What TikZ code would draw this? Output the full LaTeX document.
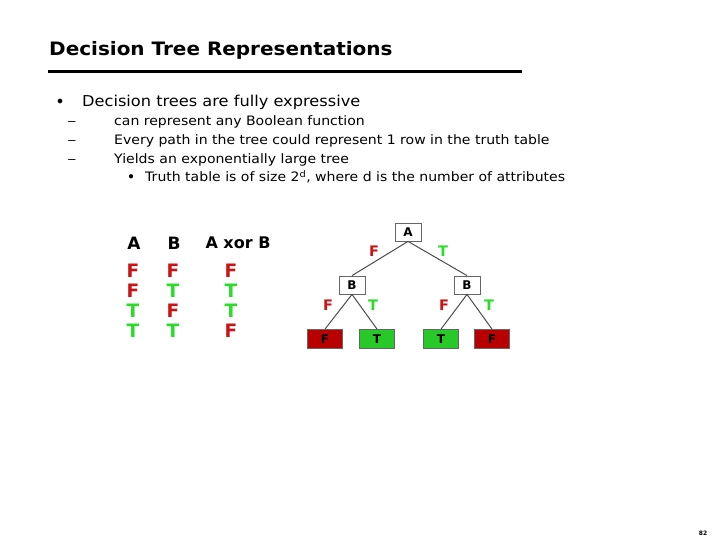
\documentclass[tikz,border=0pt]{standalone}
\usepackage{fontspec}
\setmainfont{DejaVu Sans}
\newfontfamily\slidefont[FakeStretch=1.08]{DejaVu Sans}
\usetikzlibrary{arrows,shapes}
\definecolor{fred}{RGB}{200,20,20}
\definecolor{tgreen}{RGB}{40,220,40}
\definecolor{leafred}{RGB}{185,0,0}
\definecolor{leafgreen}{RGB}{40,200,40}
\tikzstyle{line}=[anchor=base west,inner sep=0pt]
\tikzstyle{lvone}=[line,font=\slidefont\fontsize{15}{15}\selectfont]
\tikzstyle{lvtwo}=[line,font=\slidefont\fontsize{13}{13}\selectfont]
\tikzstyle{thead}=[font=\fontsize{17}{17}\bfseries,inner sep=0pt]
\tikzstyle{tval}=[font=\fontsize{18.5}{18.5}\bfseries,inner sep=0pt]
\tikzstyle{inode}=[rectangle,draw=black!60,fill=white,thick,minimum width=26pt,minimum height=18pt,inner sep=0pt,font=\fontsize{12}{12}\bfseries]
\tikzstyle{leaf}=[rectangle,draw=black!60,thick,minimum width=35pt,minimum height=19pt,inner sep=0pt,font=\fontsize{12}{12}\bfseries]
\tikzstyle{elabel}=[font=\fontsize{14.5}{14.5}\bfseries,inner sep=0pt]
\tikzstyle{tedge}=[draw=black!70,line width=1pt]
\begin{document}
\begin{tikzpicture}[x=1pt,y=-1pt]
\useasboundingbox (0,0) rectangle (720,540);
\node[line,font=\slidefont\fontsize{18.5}{18.5}\bfseries] (title) at (49,56) {Decision Tree Representations};
\draw[line width=3pt] (48,72) -- (522,72);
% bullet list
\node[font=\fontsize{13}{13}\selectfont] (b1) at (60,102) {$\bullet$};
\node[lvone] (l1) at (82,107) {Decision trees are fully expressive};
\node[lvtwo,xscale=1.3] (d1) at (67,126) {\textendash};
\node[lvtwo,xscale=1.3] (d2) at (67,145) {\textendash};
\node[lvtwo,xscale=1.3] (d3) at (67,164) {\textendash};
\node[lvtwo] (l2) at (114,126) {can represent any Boolean function};
\node[lvtwo] (l3) at (114,145) {Every path in the tree could represent 1 row in the truth table};
\node[lvtwo] (l4) at (114,164) {Yields an exponentially large tree};
\node[font=\fontsize{11}{11}\selectfont] (b2) at (131,177) {$\bullet$};
\node[lvtwo] (l5) at (145,182) {Truth table is of size 2\textsuperscript{d}, where d is the number of attributes};
% truth table
\node[thead] (hA) at (134,243) {A};
\node[thead] (hB) at (174,243) {B};
\node[thead,font=\fontsize{16}{16}\bfseries] (hX) at (238,243) {A xor B};
\node[tval,fred] (a1) at (133,271) {F};
\node[tval,fred] (a2) at (133,291) {F};
\node[tval,tgreen] (a3) at (133,311) {T};
\node[tval,tgreen] (a4) at (133,331) {T};
\node[tval,fred] (c1) at (173,271) {F};
\node[tval,tgreen] (c2) at (173,291) {T};
\node[tval,fred] (c3) at (173,311) {F};
\node[tval,tgreen] (c4) at (173,331) {T};
\node[tval,fred] (x1) at (231,271) {F};
\node[tval,tgreen] (x2) at (231,291) {T};
\node[tval,tgreen] (x3) at (231,311) {T};
\node[tval,fred] (x4) at (231,331) {F};
% tree
\node[inode] (A) at (408,232) {A};
\node[inode] (B1) at (352,285) {B};
\node[inode] (B2) at (467,285) {B};
\node[leaf,fill=leafred] (L1) at (325,339) {F};
\node[leaf,fill=leafgreen] (L2) at (377,339) {T};
\node[leaf,fill=leafgreen] (L3) at (441,339) {T};
\node[leaf,fill=leafred] (L4) at (492,339) {F};
\draw[tedge] (A.south) -- (B1.north);
\draw[tedge] (A.south) -- (B2.north);
\draw[tedge] (B1.south) -- (L1.north);
\draw[tedge] (B1.south) -- (L2.north);
\draw[tedge] (B2.south) -- (L3.north);
\draw[tedge] (B2.south) -- (L4.north);
\node[elabel,fred] (eF1) at (374,251) {F};
\node[elabel,tgreen] (eT1) at (443,251) {T};
\node[elabel,fred] (eF2) at (328,305) {F};
\node[elabel,tgreen] (eT2) at (373,305) {T};
\node[elabel,fred] (eF3) at (444,305) {F};
\node[elabel,tgreen] (eT3) at (489,305) {T};
\node[font=\fontsize{6}{6}\bfseries] (pg) at (703,533) {82};
\end{tikzpicture}
\end{document}
